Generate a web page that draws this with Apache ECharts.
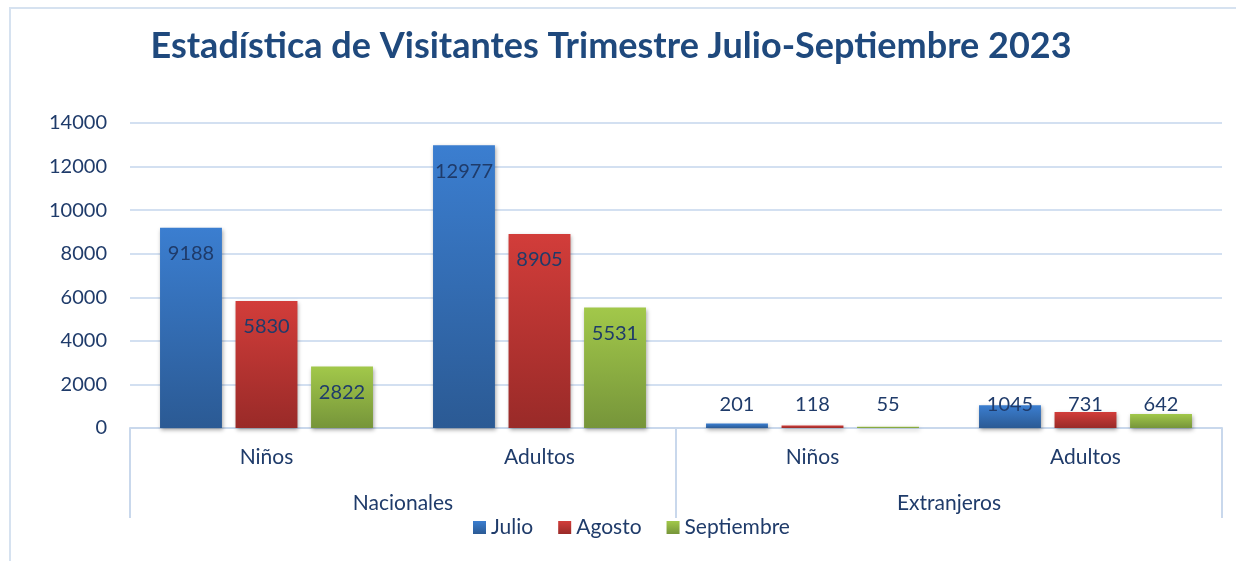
<!DOCTYPE html>
<html>
<head>
<meta charset="utf-8">
<script src="https://cdn.jsdelivr.net/npm/echarts@6/dist/echarts.min.js"></script>
<style>html,body{margin:0;padding:0;background:#fff}#c{width:1236px;height:561px}</style>
</head>
<body>
<div id="c"></div>
<script>
const titleText = 'Estadística de Visitantes Trimestre Julio-Septiembre 2023';
const subCategories = ['Niños', 'Adultos', 'Niños', 'Adultos'];
const groupCategories = ['Nacionales', 'Extranjeros'];
const seriesNames = ['Julio', 'Agosto', 'Septiembre'];
const julio = [9188, 12977, 201, 1045];
const agosto = [5830, 8905, 118, 731];
const septiembre = [2822, 5531, 55, 642];
const yTicks = [0, 2000, 4000, 6000, 8000, 10000, 12000, 14000];

const FONT = 'Lato, "Open Sans", sans-serif';
const TXT = '#1f3b6a';
const gradients = [
  ['#3b7ed0', '#2b5a94'],
  ['#d23d3a', '#992a28'],
  ['#a2c84a', '#76953a']
];
const allData = [julio, agosto, septiembre];

function mkSeries(i) {
  return {
    name: seriesNames[i],
    type: 'bar',
    xAxisIndex: 0,
    barGap: '22%',
    barCategoryGap: '22%',
    itemStyle: {
      color: new echarts.graphic.LinearGradient(0, 0, 0, 1, [
        {offset: 0, color: gradients[i][0]},
        {offset: 1, color: gradients[i][1]}
      ]),
      shadowBlur: 4,
      shadowColor: 'rgba(0,0,0,0.35)',
      shadowOffsetY: 2,
      shadowOffsetX: 1
    },
    data: allData[i].map(v => {
      const small = v < 1500;
      return {
        value: v,
        label: small
          ? {position: 'insideBottom', offset: [0, -8]}
          : {position: 'insideTop', distance: 16}
      };
    }),
    label: {
      show: true,
      color: TXT,
      fontFamily: FONT,
      fontSize: 20
    }
  };
}

const chart = echarts.init(document.getElementById('c'), null, {renderer: 'canvas'});
chart.setOption({
  animation: false,
  backgroundColor: '#fff',
  title: {
    text: titleText,
    left: 606,
    textAlign: 'center',
    top: 23,
    textStyle: {fontFamily: FONT, fontWeight: 'bold', fontSize: 36, color: '#1f497d'}
  },
  legend: {
    data: seriesNames,
    bottom: 18,
    left: 468,
    itemWidth: 13,
    itemHeight: 13,
    itemGap: 25,
    icon: 'rect',
    textStyle: {fontFamily: FONT, fontSize: 21, color: TXT}
  },
  grid: {left: 130, right: 14, top: 123, bottom: 133},
  graphic: [{
    type: 'rect',
    shape: {x: 10, y: 8, width: 1240, height: 560},
    style: {fill: 'none', stroke: '#d6e2f0', lineWidth: 2},
    silent: true
  }],
  xAxis: [
    {
      type: 'category',
      data: subCategories,
      axisLine: {show: true, lineStyle: {color: '#c9d8ec', width: 2}},
      axisTick: {show: false},
      axisLabel: {fontFamily: FONT, fontSize: 21, color: TXT, margin: 19}
    },
    {
      type: 'category',
      data: groupCategories,
      position: 'bottom',
      axisLine: {show: false},
      axisTick: {show: true, length: 90, lineStyle: {color: '#c9d8ec', width: 2}},
      axisLabel: {fontFamily: FONT, fontSize: 21, color: TXT, margin: 65},
      splitLine: {show: false}
    }
  ],
  yAxis: {
    type: 'value',
    min: yTicks[0],
    max: yTicks[yTicks.length - 1],
    interval: 2000,
    axisLine: {show: false},
    axisTick: {show: false},
    axisLabel: {fontFamily: FONT, fontSize: 20, color: TXT, margin: 23, formatter: v => String(v)},
    splitLine: {lineStyle: {color: '#d3e0f1', width: 2}}
  },
  series: [mkSeries(0), mkSeries(1), mkSeries(2)]
});
</script>
</body>
</html>
